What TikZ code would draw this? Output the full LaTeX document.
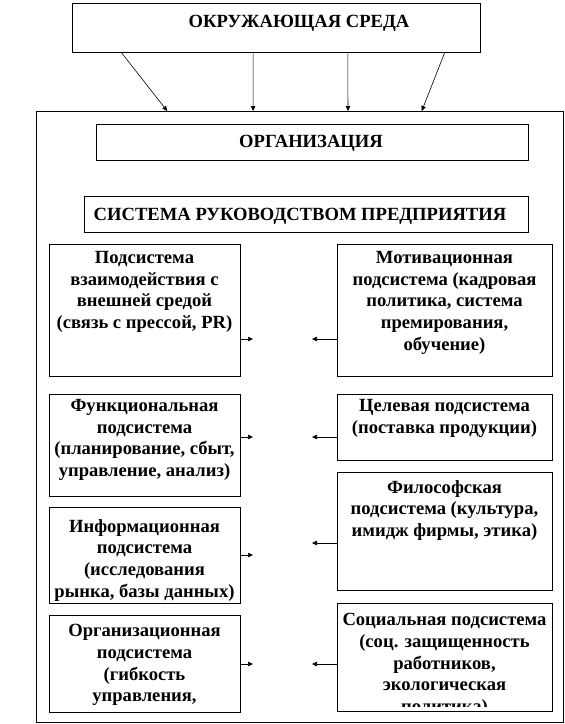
\documentclass[tikz,border=0pt]{standalone}
\usepackage{fontspec}
\setmainfont{Liberation Serif}
\usepackage{tikz}
\usetikzlibrary{arrows.meta,positioning,calc}

\begin{document}
\begin{tikzpicture}[
  x=1pt, y=-1pt,
  box/.style={draw, line width=0.7pt, anchor=north west, inner sep=0pt, outer sep=0pt},
  txt/.style={anchor=base, align=center, inner sep=0pt, font=\bfseries\fontsize{18.6}{21.8}\selectfont},
  subtxt/.style={txt, anchor=north},
  arr/.style={-{Triangle[length=5pt,width=4.5pt]}, line width=0.6pt}
]
  \useasboundingbox (0,0) rectangle (565,724);
  % environment and frame
  \node[box, minimum width=408pt, minimum height=49pt] (env) at (72,3) {};
  \node[txt] (envt) at (299,27) {ОКРУЖАЮЩАЯ СРЕДА};
  \node[box, minimum width=527pt, minimum height=611pt] (frame) at (36,111) {};
  \draw[arr] ($(env.south west)!0.12!(env.south east)$) -- ($(frame.north west)!0.249!(frame.north east)$);
  \draw[arr] ($(env.south west)!0.444!(env.south east)$) -- ($(frame.north west)!0.412!(frame.north east)$);
  \draw[arr] ($(env.south west)!0.676!(env.south east)$) -- ($(frame.north west)!0.592!(frame.north east)$);
  \draw[arr] ($(env.south west)!0.914!(env.south east)$) -- ($(frame.north west)!0.732!(frame.north east)$);

  \node[box, minimum width=432pt, minimum height=36pt] (org) at (96,124) {};
  \node[txt] (orgt) at (311,147) {ОРГАНИЗАЦИЯ};
  \node[box, minimum width=444pt, minimum height=36pt] (sys) at (84,196) {};
  \node[txt] (syst) at (300,220) {СИСТЕМА РУКОВОДСТВОМ ПРЕДПРИЯТИЯ};

  % subsystems
  \node[box, minimum width=191pt, minimum height=132pt] (inter) at (49,244) {};
  \node[box, minimum width=215pt, minimum height=132pt] (motiv) at (337,244) {};
  \node[box, minimum width=191pt, minimum height=102pt] (func) at (49,394) {};
  \node[box, minimum width=215pt, minimum height=66pt] (goal) at (337,394) {};
  \node[box, minimum width=215pt, minimum height=118pt] (phil) at (337,472) {};
  \node[box, minimum width=191pt, minimum height=96pt] (info) at (49,507) {};
  \node[box, minimum width=191pt, minimum height=97pt] (orgsub) at (49,615) {};
  \node[box, minimum width=215pt, minimum height=108pt] (social) at (337,603) {};

  \node[subtxt] (intert) at ([yshift=-7pt]inter.north) {Подсистема\\взаимодействия с\\внешней средой\\(связь с прессой, PR)};
  \node[subtxt] (motivt) at ([yshift=-7pt]motiv.north) {Мотивационная\\подсистема (кадровая\\политика, система\\премирования,\\обучение)};
  \node[subtxt] (funct) at ([yshift=-5pt]func.north) {Функциональная\\подсистема\\(планирование, сбыт,\\управление, анализ)};
  \node[subtxt] (goalt) at ([yshift=-5pt]goal.north) {Целевая подсистема\\(поставка продукции)};
  \node[subtxt] (philt) at ([yshift=-8pt]phil.north) {Философская\\подсистема (культура,\\имидж фирмы, этика)};
  \node[subtxt] (infot) at ([yshift=-12pt]info.north) {Информационная\\подсистема\\(исследования\\рынка, базы данных)};
  \node[subtxt] (orgsubt) at ([yshift=-9pt]orgsub.north) {Организационная\\подсистема\\(гибкость\\управления,};
  \begin{scope}
    \clip (social.north west) rectangle ([yshift=5pt]social.south east);
    \node[subtxt] (socialt) at ([yshift=-10pt]social.north) {Социальная подсистема\\(соц. защищенность\\работников,\\экологическая\\политика)};
  \end{scope}

  % links
  \foreach \l/\r/\y in {inter/motiv/339, func/goal/437, orgsub/social/664} {
    \coordinate (tl) at (253,\y);
    \coordinate (tr) at (312,\y);
    \draw[arr] (\l.east |- tl) -- (tl);
    \draw[arr] (\r.west |- tr) -- (tr);
  }
  \coordinate (ti) at (253,555);
  \coordinate (tp) at (312,543);
  \draw[arr] (info.east |- ti) -- (ti);
  \draw[arr] (phil.west |- tp) -- (tp);
\end{tikzpicture}
\end{document}
